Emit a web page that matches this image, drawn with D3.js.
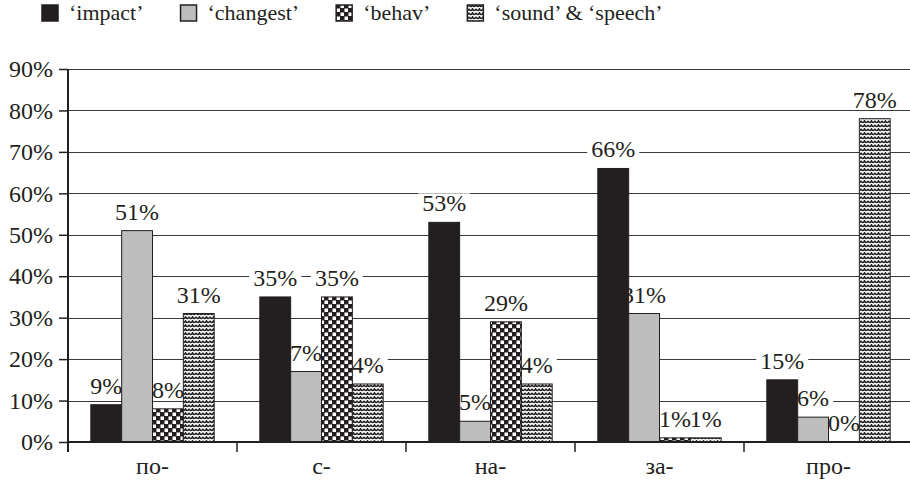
<!DOCTYPE html>
<html>
<head>
<meta charset="utf-8">
<script src="https://cdn.jsdelivr.net/npm/d3@7"></script>
<style>
  body { margin: 0; background: #fff; }
</style>
</head>
<body>
<div id="chart"></div>
<script>
// categories (prefixes) and the four series, in %
var categories = ["по-", "с-", "на-", "за-", "про-"];
var seriesNames = ["‘impact’", "‘changest’", "‘behav’", "‘sound’ & ‘speech’"];

var impact   = [9, 35, 53, 66, 15];
var changest = [51, 17, 5, 31, 6];
var behav    = [8, 35, 29, 1, 0];
var sound    = [31, 14, 14, 1, 78];

// label texts as printed on the chart
var impactLabels   = ["9%", "35%", "53%", "66%", "15%"];
var changestLabels = ["51%", "7%", "5%", "31%", "6%"];
var behavLabels    = ["8%", "35%", "29%", "1%", "0%"];
var soundLabels    = ["31%", "4%", "4%", "1%", "78%"];

var yTicks = [0, 10, 20, 30, 40, 50, 60, 70, 80, 90];

var width = 910, height = 480;
var margin = {top: 69, right: -3, bottom: 38, left: 68};
var serif = "'Liberation Serif', 'Times New Roman', serif";
var ink = "#231f20";

var svg = d3.select("#chart").append("svg")
    .attr("width", width)
    .attr("height", height);

// patterns
var defs = svg.append("defs");

var checker = defs.append("pattern")
    .attr("id", "checker")
    .attr("patternUnits", "userSpaceOnUse")
    .attr("width", 8).attr("height", 8);
checker.append("rect").attr("width", 8).attr("height", 8).attr("fill", ink);
checker.append("rect").attr("x", 0.5).attr("y", 0.5).attr("width", 3.5).attr("height", 3.5).attr("fill", "#fff");
checker.append("rect").attr("x", 4.5).attr("y", 4.5).attr("width", 3.5).attr("height", 3.5).attr("fill", "#fff");

var wave = defs.append("pattern")
    .attr("id", "wave")
    .attr("patternUnits", "userSpaceOnUse")
    .attr("width", 7).attr("height", 4);
wave.append("rect").attr("width", 7).attr("height", 4).attr("fill", "#fff");
wave.append("path")
    .attr("d", "M0,0.8 Q1.75,4.4 3.5,0.8 Q5.25,4.4 7,0.8")
    .attr("fill", "none")
    .attr("stroke", ink)
    .attr("stroke-width", 1.5);

var fills = [ink, "#bdbdbd", "url(#checker)", "url(#wave)"];

var series = [
  {name: seriesNames[0], values: impact, labels: impactLabels},
  {name: seriesNames[1], values: changest, labels: changestLabels},
  {name: seriesNames[2], values: behav, labels: behavLabels},
  {name: seriesNames[3], values: sound, labels: soundLabels}
];

// scales
var x0 = d3.scaleBand()
    .domain(categories)
    .range([margin.left, width - margin.right])
    .paddingInner(0.27)
    .paddingOuter(0.135);

var step = x0.step();

var x1 = d3.scaleBand()
    .domain(d3.range(series.length))
    .range([0, x0.bandwidth()]);

var y = d3.scaleLinear()
    .domain([0, 90])
    .range([height - margin.bottom, margin.top]);

// gridlines
svg.append("g")
    .selectAll("line")
    .data(yTicks.slice(1))
    .enter().append("line")
    .attr("x1", margin.left)
    .attr("x2", width)
    .attr("y1", function(d) { return Math.round(y(d)) + 0.5; })
    .attr("y2", function(d) { return Math.round(y(d)) + 0.5; })
    .attr("stroke", "#3a3a3a")
    .attr("stroke-width", 1);

// y axis
var yAxis = svg.append("g")
    .attr("transform", "translate(" + margin.left + ",0)")
    .call(d3.axisLeft(y).tickValues(yTicks).tickSize(9).tickPadding(6)
      .tickFormat(function(d) { return d + "%"; }));
yAxis.attr("font-family", null).attr("font-size", null);
yAxis.select(".domain").remove();
yAxis.selectAll(".tick line").attr("stroke", ink).attr("stroke-width", 1.5);
yAxis.selectAll("text")
    .style("font-size", "24px")
    .style("font-family", serif)
    .attr("fill", ink);

svg.append("line")
    .attr("x1", margin.left).attr("x2", margin.left)
    .attr("y1", y(90)).attr("y2", y(0) + 10)
    .attr("stroke", ink).attr("stroke-width", 2);

// data labels (drawn under the bars, on white boxes)
var labelG = svg.append("g");
series.forEach(function(s, si) {
  s.values.forEach(function(v, ci) {
    var cx = x0(categories[ci]) + x1(si) + x1.bandwidth() / 2;
    var t = labelG.append("text")
        .attr("x", cx)
        .attr("y", y(v) - 11)
        .attr("text-anchor", "middle")
        .attr("fill", ink)
        .style("font-family", serif)
        .style("font-size", "24px")
        .text(s.labels[ci]);
    var bb = t.node().getBBox();
    labelG.insert("rect", "text")
        .attr("x", bb.x - 4).attr("y", bb.y + 3)
        .attr("width", bb.width + 8).attr("height", bb.height - 6)
        .attr("fill", "#fff");
  });
});

// bars
var groups = svg.append("g")
    .selectAll("g")
    .data(series)
    .enter().append("g");

groups.selectAll("rect")
    .data(function(d, i) {
      return d.values.map(function(v, ci) { return {s: i, c: categories[ci], v: v}; });
    })
    .enter().append("rect")
    .attr("x", function(d) { return x0(d.c) + x1(d.s); })
    .attr("y", function(d) { return y(d.v); })
    .attr("width", x1.bandwidth())
    .attr("height", function(d) { return y(0) - y(d.v); })
    .attr("fill", function(d) { return fills[d.s]; })
    .attr("stroke", ink)
    .attr("stroke-width", 1);

// x axis
svg.append("line")
    .attr("x1", margin.left).attr("x2", width)
    .attr("y1", y(0)).attr("y2", y(0))
    .attr("stroke", ink).attr("stroke-width", 2);

svg.append("g")
    .selectAll("line")
    .data(categories.slice(1))
    .enter().append("line")
    .attr("x1", function(d) { return x0(d) - step * 0.135; })
    .attr("x2", function(d) { return x0(d) - step * 0.135; })
    .attr("y1", y(0)).attr("y2", y(0) + 10)
    .attr("stroke", ink).attr("stroke-width", 1.5);

svg.append("g")
    .selectAll("text")
    .data(categories)
    .enter().append("text")
    .attr("x", function(d) { return x0(d) + x0.bandwidth() / 2; })
    .attr("y", 474)
    .attr("text-anchor", "middle")
    .attr("fill", ink)
    .style("font-family", serif)
    .style("font-size", "24px")
    .text(function(d) { return d; });

// legend
var legend = svg.append("g");
var lx = 42;
series.forEach(function(s, i) {
  legend.append("rect")
      .attr("x", lx).attr("y", 5)
      .attr("width", 16).attr("height", 16)
      .attr("fill", fills[i])
      .attr("stroke", ink)
      .attr("stroke-width", 1.5);
  var t = legend.append("text")
      .attr("x", lx + 27)
      .attr("y", 20)
      .attr("fill", ink)
      .style("font-family", serif)
      .style("font-size", "22px")
      .text(s.name);
  lx = lx + 27 + t.node().getComputedTextLength() + 37;
});
</script>
</body>
</html>
